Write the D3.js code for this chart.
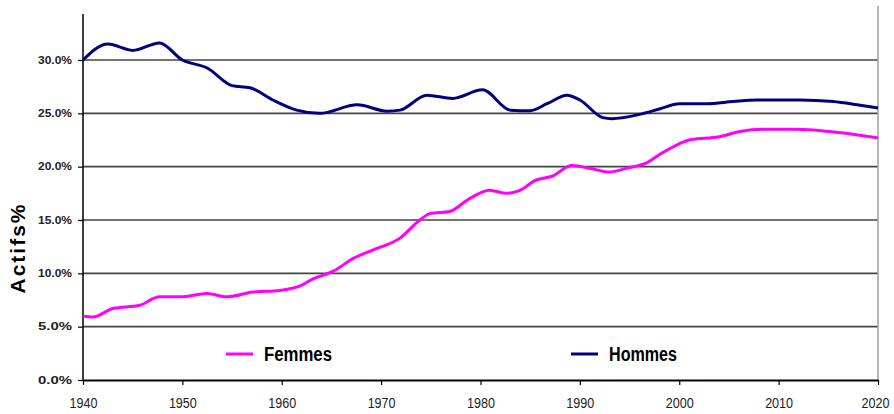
<!DOCTYPE html>
<html>
<head>
<meta charset="utf-8">
<script src="https://cdn.jsdelivr.net/npm/d3@7"></script>
<style>
  body { margin: 0; background: #fff; }
  svg { display: block; }
</style>
</head>
<body>
<div id="chart"></div>
<script>
// data
const femmesYears = [1940, 1941, 1943, 1945.7, 1947.7, 1949.8, 1952.5, 1954.5, 1957.1, 1959.8, 1961.8, 1963.2, 1965.2, 1967.2, 1969.2, 1971.9, 1973.9, 1974.9, 1976.9, 1978.9, 1980.9, 1982.6, 1983.9, 1985.6, 1987.2, 1989.2, 1991.2, 1992.9, 1994.9, 1996.6, 1998.3, 1999.9, 2001, 2004, 2006.1, 2008.4, 2011.8, 2015.1, 2020];
const femmesValues = [6.0, 5.9, 6.7, 7.0, 7.8, 7.8, 8.1, 7.8, 8.25, 8.4, 8.8, 9.5, 10.2, 11.4, 12.2, 13.3, 15.0, 15.6, 15.8, 17.0, 17.8, 17.5, 17.75, 18.75, 19.1, 20.1, 19.8, 19.5, 19.9, 20.3, 21.3, 22.1, 22.5, 22.8, 23.3, 23.5, 23.5, 23.3, 22.7];

const hommesYears = [1940, 1942.5, 1945, 1947.7, 1950, 1952.5, 1955, 1956.8, 1959.1, 1961.5, 1963.8, 1967.6, 1970.6, 1971.9, 1974.6, 1977.2, 1980.2, 1983, 1985, 1986.7, 1988.7, 1990, 1992.3, 1993.2, 1996, 1998, 2000, 2002.8, 2005.4, 2007.8, 2012.1, 2015.5, 2017.9, 2020];
const hommesValues = [30.0, 31.5, 30.9, 31.6, 30.0, 29.25, 27.6, 27.4, 26.25, 25.3, 25.0, 25.8, 25.2, 25.3, 26.7, 26.4, 27.2, 25.3, 25.25, 25.9, 26.7, 26.25, 24.6, 24.5, 24.9, 25.4, 25.9, 25.9, 26.1, 26.25, 26.25, 26.1, 25.8, 25.5];

const yTicks = [0, 5, 10, 15, 20, 25, 30];
const xTicks = [1940, 1950, 1960, 1970, 1980, 1990, 2000, 2010, 2020];
const seriesNames = ["Femmes", "Hommes"];

const width = 894, height = 414;
const svg = d3.select("#chart").append("svg")
    .attr("width", width)
    .attr("height", height);

const x = d3.scaleLinear().domain([1940, 2020]).range([83, 878]);
const y = d3.scaleLinear().domain([0, 30]).range([380, 60]);

// gridlines
svg.append("g").selectAll("line")
    .data(yTicks.filter(d => d > 0))
    .enter().append("line")
    .attr("x1", x(1940)).attr("x2", x(2020))
    .attr("y1", d => y(d)).attr("y2", d => y(d))
    .attr("stroke", "#444").attr("stroke-width", 1.6);

// right border
svg.append("line")
    .attr("x1", x(2020)).attr("x2", x(2020))
    .attr("y1", 6).attr("y2", y(0))
    .attr("stroke", "#a0a0a0").attr("stroke-width", 1.5);

// y axis
const yAxis = svg.append("g")
    .attr("transform", "translate(" + x(1940) + ",0)")
    .call(d3.axisLeft(y).tickValues(yTicks).tickSize(5).tickSizeOuter(0)
        .tickFormat(d => d.toFixed(1) + "%"));
yAxis.select(".domain").attr("d", "M0," + y(0) + "V14").attr("stroke", "#000").attr("stroke-width", 1.5);
yAxis.selectAll(".tick line").attr("stroke", "#000").attr("stroke-width", 1.2);
yAxis.selectAll(".tick text")
    .attr("x", -11)
    .attr("textLength", 34)
    .attr("lengthAdjust", "spacingAndGlyphs")
    .style("font-family", "'Liberation Sans', Arial, sans-serif")
    .style("font-size", "10px")
    .style("font-weight", "bold")
    .attr("fill", "#222");

// x axis
const xAxis = svg.append("g")
    .attr("transform", "translate(0," + y(0) + ")")
    .call(d3.axisBottom(x).tickValues(xTicks).tickSize(5).tickSizeOuter(0).tickFormat(d3.format("d")));
xAxis.select(".domain").attr("stroke", "#000").attr("stroke-width", 2.2);
xAxis.selectAll(".tick line").attr("stroke", "#000").attr("stroke-width", 1.2);
xAxis.selectAll(".tick text")
    .attr("y", 17)
    .attr("textLength", 28)
    .attr("lengthAdjust", "spacingAndGlyphs")
    .style("font-family", "'Liberation Sans', Arial, sans-serif")
    .style("font-size", "15px")
    .attr("fill", "#222");
// last label sits against the right edge, as in the reference
xAxis.selectAll(".tick text").filter(d => d === 2020).attr("dx", -3);

// lines
const line = d3.line()
    .x(d => x(d[0]))
    .y(d => y(d[1]))
    .curve(d3.curveMonotoneX);

svg.append("path")
    .datum(d3.zip(hommesYears, hommesValues))
    .attr("d", line)
    .attr("fill", "none")
    .attr("stroke", "#000080")
    .attr("stroke-width", 3);

svg.append("path")
    .datum(d3.zip(femmesYears, femmesValues))
    .attr("d", line)
    .attr("fill", "none")
    .attr("stroke", "#ff00ff")
    .attr("stroke-width", 3);

// axis title
svg.append("text")
    .attr("transform", "translate(25,248) rotate(-90)")
    .attr("text-anchor", "middle")
    .style("font-family", "'Liberation Sans', Arial, sans-serif")
    .style("font-size", "21px")
    .style("font-weight", "bold")
    .style("letter-spacing", "2px")
    .text("Actifs%");

// legend
const legendColors = ["#ff00ff", "#000080"];
const legendX = [226, 571];
const legend = svg.append("g").selectAll("g")
    .data(seriesNames)
    .enter().append("g")
    .attr("transform", (d, i) => "translate(" + legendX[i] + ",354)");
legend.append("line")
    .attr("x1", 0).attr("x2", 27)
    .attr("stroke", (d, i) => legendColors[i])
    .attr("stroke-width", 3);
legend.append("text")
    .attr("x", 38)
    .attr("dy", "0.36em")
    .attr("textLength", 68)
    .attr("lengthAdjust", "spacingAndGlyphs")
    .style("font-family", "'Liberation Sans', Arial, sans-serif")
    .style("font-size", "20px")
    .style("font-weight", "bold")
    .text(d => d);
</script>
</body>
</html>
